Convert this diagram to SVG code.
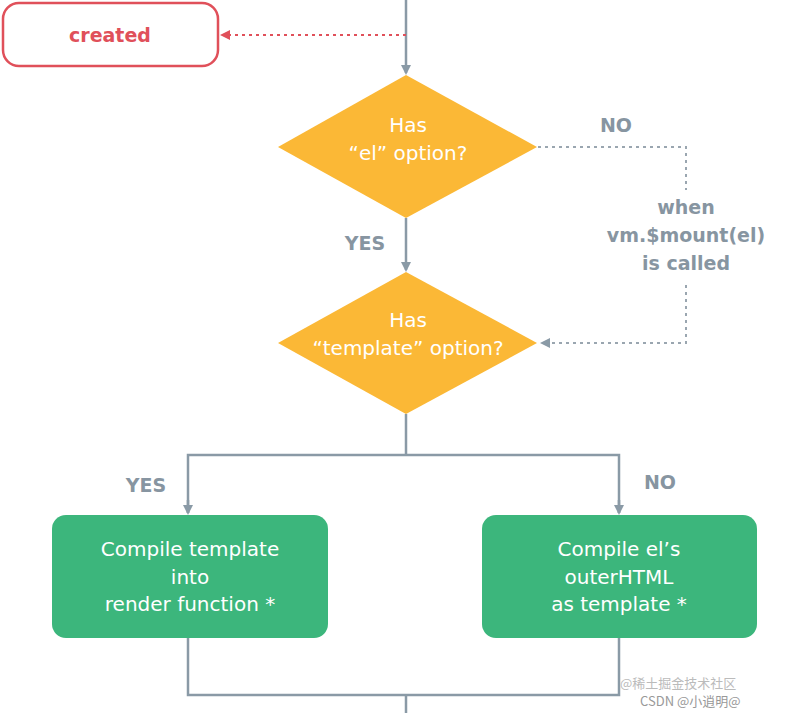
<svg xmlns="http://www.w3.org/2000/svg" width="787" height="713" viewBox="0 0 787 713">
<style>
.ln{stroke:#8a9aa6;stroke-width:2.5;fill:none}
.dot{stroke:#9aa6b0;stroke-width:2;fill:none;stroke-dasharray:3 4}
.lbl{font-family:"DejaVu Sans","Open Sans",sans-serif;font-weight:bold;font-size:19px;fill:#8795a1;text-anchor:middle}
.wt{font-family:"DejaVu Sans","Open Sans",sans-serif;font-size:20px;fill:#fff;text-anchor:middle}
.dia{fill:#fbb836}
.box{fill:#3cb67c}
</style>
<defs>
<marker id="ag" markerWidth="10" markerHeight="10" refX="8" refY="5" orient="auto" markerUnits="userSpaceOnUse"><path d="M0,0 L10,5 L0,10 z" fill="#8a9aa6"/></marker>
<marker id="ar" markerWidth="10" markerHeight="10" refX="8" refY="5" orient="auto" markerUnits="userSpaceOnUse"><path d="M0,0 L10,5 L0,10 z" fill="#e0505a"/></marker>
</defs>
<rect width="787" height="713" fill="#fff"/>
<g id="connectors">
<line class="ln" x1="406" y1="0" x2="406" y2="73" marker-end="url(#ag)"/>
<line x1="406" y1="35" x2="222" y2="35" stroke="#e0505a" stroke-width="2" stroke-dasharray="3 4" marker-end="url(#ar)"/>
<line class="ln" x1="406" y1="218" x2="406" y2="270" marker-end="url(#ag)"/>
<polyline class="dot" points="538,147 686,147 686,190"/>
<polyline class="dot" points="686,285 686,343 542,343" marker-end="url(#ag)"/>
<polyline class="ln" points="406,414 406,455"/>
<polyline class="ln" points="188,513 188,455 619,455 619,513"/>
<line class="ln" x1="188" y1="500" x2="188" y2="513" marker-end="url(#ag)"/>
<line class="ln" x1="619" y1="500" x2="619" y2="513" marker-end="url(#ag)"/>
<polyline class="ln" points="188,638 188,695 619,695 619,638"/>
<line class="ln" x1="406" y1="695" x2="406" y2="713"/>
<text class="lbl" x="616" y="132">NO</text>
<text class="lbl" x="365" y="250">YES</text>
<text class="lbl" x="686" y="214">when</text>
<text class="lbl" x="686" y="242">vm.$mount(el)</text>
<text class="lbl" x="686" y="270">is called</text>
<text class="lbl" x="146" y="492">YES</text>
<text class="lbl" x="660" y="489">NO</text>
</g>
<g id="created">
<rect x="3" y="3" width="215" height="63" rx="16" fill="#fff" stroke="#e0505a" stroke-width="2.5"/>
<text x="110" y="42" font-family="'DejaVu Sans',sans-serif" font-weight="bold" font-size="19" fill="#e0505a" text-anchor="middle">created</text>
</g>
<g id="has-el">
<polygon class="dia" points="406,75 537,147 406,218 278,147"/>
<text class="wt" x="408" y="132">Has</text>
<text class="wt" x="408" y="160">“el” option?</text>
</g>
<g id="has-template">
<polygon class="dia" points="406,272 537,343 406,414 278,343"/>
<text class="wt" x="408" y="327">Has</text>
<text class="wt" x="408" y="355">“template” option?</text>
</g>
<g id="compile-template">
<rect class="box" x="52" y="515" width="276" height="123" rx="14"/>
<text class="wt" x="190" y="556">Compile template</text>
<text class="wt" x="190" y="584">into</text>
<text class="wt" x="190" y="611">render function *</text>
</g>
<g id="compile-el">
<rect class="box" x="482" y="515" width="275" height="123" rx="14"/>
<text class="wt" x="619" y="556">Compile el’s</text>
<text class="wt" x="619" y="584">outerHTML</text>
<text class="wt" x="619" y="611">as template *</text>
</g>
<g id="watermark" font-family="'Noto Sans CJK SC',sans-serif" font-size="13" fill="#bbb">
<text x="620" y="688">@稀土掘金技术社区</text>
<text x="640" y="706" fill="#999">CSDN @小逍明@</text>
</g>
</svg>
